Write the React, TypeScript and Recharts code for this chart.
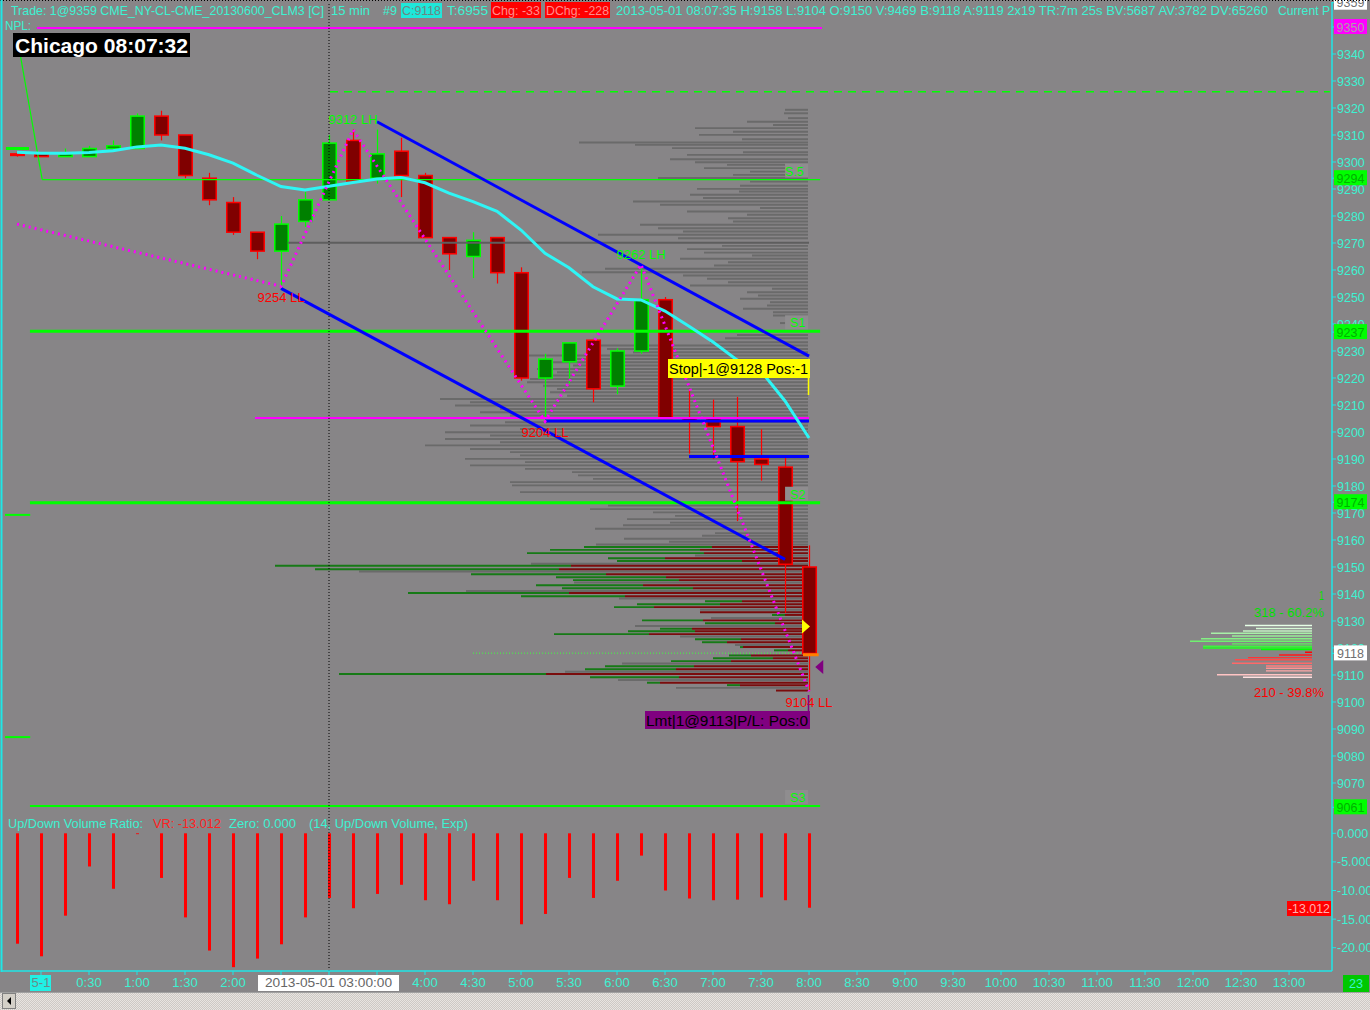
import React from 'react';
import { ComposedChart, Bar, Line, XAxis, YAxis, ReferenceLine, ReferenceDot, Cell } from 'recharts';

// ---------- data ----------
const TIMES = ['23:45','0:00','0:15','0:30','0:45','1:00','1:15','1:30','1:45','2:00','2:15','2:30','2:45','3:00','3:15','3:30','3:45','4:00','4:15','4:30','4:45','5:00','5:15','5:30','5:45','6:00','6:15','6:30','6:45','7:00','7:15','7:30','7:45','8:00'];
const OPEN = [9303,9303,9302,9302,9305,9305,9317,9310,9294,9285,9274,9267,9278,9286,9308,9294,9304,9295,9272,9265,9272,9259,9220,9226,9234,9217,9230,9249,9205,9205,9202,9190,9187,9150];
const HIGH = [9304,9303.5,9305,9306,9308,9318,9319,9310,9296,9287,9274,9280,9289,9310,9312,9312,9309,9296,9272,9274,9272,9261,9229,9233,9234,9231,9262,9250,9216,9212,9213,9201,9191,9158];
const LOW = [9302,9302,9302,9302,9305,9305,9308,9294,9284,9273,9264,9254,9276,9286,9293,9292,9287,9272,9260,9257,9255,9219,9204,9218,9211,9214,9229,9205,9192,9190,9167,9182,9133,9104];
const CLOSE = [9303,9302,9303,9305,9306,9317,9310,9295,9286,9274,9267,9277,9286,9307,9293,9303,9295,9272,9266,9271,9259,9220,9227,9233,9216,9230,9249,9205,9204,9202,9189,9188,9151,9118];
const EMA = [9303.6,9303.2,9303.2,9303.5,9304.2,9305.6,9306.3,9305.1,9302.7,9299.6,9295.1,9290.9,9289.6,9291.0,9292.4,9293.7,9294.3,9292.3,9288.5,9285.3,9281.7,9274.8,9266.2,9260.8,9253.8,9249.3,9248.9,9244.8,9239.2,9233.3,9226.7,9222.5,9211.5,9197.8];
const VOL_RATIO = [-19.3,-21.5,-14.4,-5.8,-9.7,-0.15,-7.8,-14.7,-20.5,-23.4,-21.9,-19.4,-14.7,-11.3,-13.1,-10.6,-9.0,-11.7,-12.4,-8.3,-11.7,-15.9,-14.1,-7.8,-11.3,-8.3,-3.9,-10.0,-11.4,-11.7,-11.6,-11.2,-11.7,-13.012];

const ZZ_INDEX = [0, 11, 14, 22, 26, 33];
const ZZ_PRICE = [9277, 9254, 9312, 9204, 9262, 9104];
const ZZ_TEXT = ['', '9254 LL', '9312 LH', '9204 LL', '9262 LH', '9104 LL'];
const CH_UP_INDEX = [15, 33];
const CH_UP_PRICE = [9314.9, 9228.1];
const CH_LO_INDEX = [11, 32];
const CH_LO_PRICE = [9253.2, 9152.8];

const LEVEL_NAMES = ['S.5', 'S1', 'S2', 'S3'];
const LEVEL_PRICES = [9293.5, 9237.3, 9173.8, 9061.5];
const NPL_PRICE = 9349.6;

// volume profile (gray rows = total, split rows = up/down)
const GRAY_PRICE = [9319.3,9318.0,9316.2,9314.9,9313.7,9312.5,9311.2,9310.0,9308.4,9307.2,9306.3,9305.1,9303.6,9302.6,9301.0,9299.9,9298.9,9297.7,9296.4,9295.2,9294.0,9292.7,9291.2,9290.0,9289.0,9287.8,9286.6,9285.3,9284.1,9282.9,9281.6,9280.4,9279.1,9277.9,9276.7,9275.4,9274.2,9273.0,9271.7,9268.9,9267.7,9266.4,9265.3,9264.1,9262.8,9261.6,9260.4,9259.1,9257.9,9256.7,9255.4,9254.2,9253.0,9251.7,9250.5,9249.3,9248.0,9246.8,9245.6,9244.3,9243.1,9241.9,9240.3,9239.0,9235.9,9234.7,9233.2,9232.0,9230.7,9229.5,9228.3,9227.0,9225.8,9224.6,9223.3,9222.1,9220.9,9219.6,9218.4,9217.1,9215.9,9214.7,9213.4,9212.2,9211.0,9209.8,9208.5,9207.3,9206.1,9203.6,9202.4,9201.1,9199.9,9198.7,9197.4,9196.2,9195.0,9193.7,9192.5,9191.3,9190.0,9188.8,9187.6,9186.3,9185.1,9183.9,9182.6,9181.4,9180.2,9177.7,9173.9,9172.7,9171.4,9170.2,9168.9,9167.7,9166.4,9165.4,9164.1,9162.5,9161.5,9160.4,9159.3,9158.3,9154.2,9151.2,9148.3,9144.2,9141.1,9138.3,9134.1,9131.1,9128.1,9124.2,9121.1,9114.2,9111.2,9108.1,9105.2];
const GRAY_VOL = [23,24,20,61,35,113,75,109,66,229,173,136,65,121,138,113,81,104,58,75,150,58,68,111,69,118,105,175,148,48,121,61,80,75,168,150,125,210,130,86,121,104,56,128,80,94,203,226,125,101,80,118,36,61,50,68,38,41,65,35,35,11,28,11,71,83,98,208,201,175,280,235,255,235,271,251,261,278,281,265,251,258,241,368,338,353,308,328,298,303,338,288,363,318,363,308,383,338,298,288,343,283,338,283,236,230,215,298,296,288,103,200,218,155,133,181,138,185,213,93,106,184,139,212,113,277,449,234,342,189,108,97,173,128,73,186,243,190,132];
const SPLIT_PRICE = [9157.4,9156.3,9155.1,9153.2,9152.2,9150.4,9149.1,9147.3,9146.2,9145.1,9143.2,9142.1,9140.3,9139.1,9137.3,9136.2,9135.1,9133.2,9132.2,9130.2,9129.1,9127.1,9126.2,9125.1,9123.2,9122.1,9120.3,9119.1,9117.2,9116.2,9115.1,9113.2,9112.1,9110.3,9109.1,9107.1,9106.2,9104.2];
const SPLIT_UP = [128,150,177,57,125,296,244,135,110,106,107,131,161,104,37,83,40,0,13,61,70,32,67,95,46,25,3,14,22,60,60,89,91,207,89,13,13,0];
const SPLIT_DOWN = [96,108,104,143,66,237,249,202,142,129,165,115,239,183,66,88,154,108,23,105,33,116,113,159,67,81,65,20,57,35,77,114,132,262,129,148,68,32];

// small right-hand profile
const MINI_PRICE = [9128.3,9127.2,9126.3,9125.4,9124.4,9123.4,9122.5,9121.5,9120.6,9120.0,9119.4,9118.4,9117.4,9116.4,9115.6,9114.3,9113.3,9112.5,9111.5,9110.1,9109.1];
const MINI_VOL = [67,56,69,101,80,111,122,80,109,109,51,7,33,64,77,80,46,46,46,95,69];

const PRICE_TICKS = [9340,9330,9320,9310,9300,9290,9280,9270,9260,9250,9240,9230,9220,9210,9200,9190,9180,9170,9160,9150,9140,9130,9120,9110,9100,9090,9080,9070,9359,9350,9294,9237,9174,9118,9061];
const VR_TICKS = [0, -5, -10, -15, -20];
const VR_TICK_LABELS = ['0.000', '-5.000', '-10.000', '-15.000', '-20.000'];
const X_TICK_LABELS = ['5-1','0:30','1:00','1:30','2:00','2:30','3:00','3:30','4:00','4:30','5:00','5:30','6:00','6:30','7:00','7:30','8:00','8:30','9:00','9:30','10:00','10:30','11:00','11:30','12:00','12:30','13:00'];
const CURSOR_INDEX = 13;
const CURSOR_LABEL = '2013-05-01  03:00:00';

// ---------- styles ----------
const FONT = '"Liberation Sans", Arial, sans-serif';
const BG = '#878587';
const TXT = '#3cf2d2';
const AXIS = '#1fe6e6';
const PRICE_DOMAIN: [number, number] = [9058.15, 9359.26];
const X_DOMAIN: [number, number] = [-0.625, 54.79];
const VR_DOMAIN: [number, number] = [-24.07, 3.2];
const LEVEL_END = 33.46;
const PRICE_BOXES: Record<number, { bg: string; fg: string }> = {
  9359: { bg: '#ffffff', fg: '#707070' },
  9350: { bg: '#ff00ff', fg: '#a8a0a8' },
  9294: { bg: '#00ff00', fg: '#00b000' },
  9237: { bg: '#00ff00', fg: '#00b000' },
  9174: { bg: '#00ff00', fg: '#00b000' },
  9061: { bg: '#00ff00', fg: '#00b000' },
  9118: { bg: '#ffffff', fg: '#707070' },
};
const MINI_SHADES = ['#e6ffe6','#d6f8d6','#c4f2c4','#a8f0a8','#98ee98','#84f084','#70f070','#5cf05c','#40f040','#20ff20','#00ff00','#ff0000','#ff1a1a','#ff3434','#ff4c4c','#ff6868','#ff8080','#ff9494','#ffa8a8','#ffc4c4','#ffe0e0'];

// ---------- tables ----------
const rows = TIMES.map((t, i) => {
  const z = ZZ_INDEX.indexOf(i);
  const u = CH_UP_INDEX.indexOf(i);
  const lo = CH_LO_INDEX.indexOf(i);
  return {
    i, t, o: OPEN[i], h: HIGH[i], l: LOW[i], c: CLOSE[i], ema: EMA[i], vr: VOL_RATIO[i],
    zz: z >= 0 ? ZZ_PRICE[z] : null,
    cu: u >= 0 ? CH_UP_PRICE[u] : null,
    cl: lo >= 0 ? CH_LO_PRICE[lo] : null,
  };
});
const profileRows = [
  ...GRAY_PRICE.map((p, k) => ({ p, g: GRAY_VOL[k], dn: 0, up: 0 })),
  ...SPLIT_PRICE.map((p, k) => ({ p, g: 0, dn: SPLIT_DOWN[k], up: SPLIT_UP[k] })),
];
const miniRows = MINI_PRICE.map((p, k) => ({ p, v: MINI_VOL[k] }));
const X_TICKS = X_TICK_LABELS.map((_, k) => 1 + 2 * k);

// ---------- shapes ----------
const Candle = (props: any) => {
  const { x, y, width, height, payload } = props;
  if (x == null || !payload) return <g />;
  const top = Math.min(y, y + height);
  const hgt = Math.abs(height);
  const { o, h, l, c } = payload;
  const k = h > l ? hgt / (h - l) : 0;
  const py = (v: number) => top + (h - v) * k;
  const up = c > o;
  const edge = up ? '#00ff00' : '#ff0000';
  const body = up ? '#008000' : '#800000';
  const bt = py(Math.max(o, c));
  const bb = py(Math.min(o, c));
  const cx = x + width / 2;
  return (
    <g>
      <line x1={cx} x2={cx} y1={top} y2={top + hgt} stroke={edge} strokeWidth={1.2} />
      <rect x={x + 0.75} y={bt} width={width - 1.5} height={Math.max(bb - bt, 1.5)} fill={body} stroke={edge} strokeWidth={1.5} />
    </g>
  );
};

const PriceTick = (props: any) => {
  const { x, y, payload } = props;
  const v = payload.value;
  const box = PRICE_BOXES[v];
  if (box) {
    return (
      <g>
        <rect x={x - 3} y={y - 8} width={33} height={15} fill={box.bg} />
        <text x={x + 13.5} y={y + 4.5} textAnchor="middle" fill={box.fg} fontSize={12.5} fontFamily={FONT}>{v}</text>
      </g>
    );
  }
  return <text x={x} y={y + 4.5} fill={TXT} fontSize={12.5} fontFamily={FONT}>{v}</text>;
};

const VrTick = (props: any) => {
  const { x, y, payload } = props;
  const k = VR_TICKS.indexOf(payload.value);
  return <text x={x} y={y + 4.5} fill={TXT} fontSize={12.5} fontFamily={FONT}>{VR_TICK_LABELS[k]}</text>;
};

const TimeTick = (props: any) => {
  const { x, y, payload } = props;
  const i = payload.value;
  const lbl = X_TICK_LABELS[(i - 1) / 2];
  if (i === CURSOR_INDEX) {
    return (
      <g>
        <rect x={x - 71} y={y - 2} width={141} height={16} fill="#ffffff" />
        <text x={x - 64} y={y + 10} fill="#666666" fontSize={13} fontFamily={FONT} textLength={127} lengthAdjust="spacingAndGlyphs">{CURSOR_LABEL}</text>
      </g>
    );
  }
  if (Math.abs(i - CURSOR_INDEX) === 2) return <g />;
  if (i === 1) {
    return (
      <g>
        <rect x={x - 11} y={y - 2} width={21} height={16} fill="#22f0e4" />
        <text x={x} y={y + 10} textAnchor="middle" fill="#6a8a88" fontSize={13} fontFamily={FONT}>{lbl}</text>
      </g>
    );
  }
  return <text x={x} y={y + 10} textAnchor="middle" fill={TXT} fontSize={13} fontFamily={FONT}>{lbl}</text>;
};

const levelLabel = (txt: string, dx: number) => (p: any) => {
  const vb = p.viewBox || {};
  const xe = (vb.x || 0) + (vb.width || 0);
  return (
    <g>
      <rect x={xe - 35} y={vb.y - 16} width={23} height={14} fill="#8f8d8f" />
      <text x={xe - dx} y={vb.y - 4} fill="#00ff00" fontSize={12.5} fontFamily={FONT}>{txt}</text>
    </g>
  );
};

const pivotLabel = (txt: string, up: boolean) => (p: any) => {
  const vb = p.viewBox || {};
  const cx = (vb.x || 0) + (vb.width || 0) / 2;
  const cy = (vb.y || 0) + (vb.height || 0) / 2;
  return (
    <text x={cx} y={up ? cy - 6 : cy + 16} textAnchor="middle" fill={up ? '#00ff00' : '#ff0000'} fontSize={13} fontFamily={FONT}>{txt}</text>
  );
};

const Tri = (dir: 'r' | 'l', fill: string) => (p: any) => {
  const { cx, cy } = p;
  const pts = dir === 'r'
    ? `${cx - 7},${cy - 7} ${cx + 1},${cy} ${cx - 7},${cy + 7}`
    : `${cx + 7},${cy - 7} ${cx - 1},${cy} ${cx + 7},${cy + 7}`;
  return <polygon points={pts} fill={fill} />;
};

const T = (p: { x: number; y: number; w?: number; fill?: string; size?: number; bold?: boolean; anchor?: string; children: any }) => (
  <text x={p.x} y={p.y} fill={p.fill || TXT} fontSize={p.size || 13} fontFamily={FONT} fontWeight={p.bold ? 'bold' : 'normal'}
    textAnchor={(p.anchor as any) || 'start'} textLength={p.w} lengthAdjust={p.w ? 'spacingAndGlyphs' : undefined}>{p.children}</text>
);

export default function App() {
  return (
    <div style={{ position: 'absolute', left: 0, top: 0, width: 1370, height: 1010, background: BG, overflow: 'hidden', fontFamily: FONT }}>
      {/* volume profile behind everything */}
      <div style={{ position: 'absolute', left: 0, top: 0 }}>
        <ComposedChart width={808} height={817} layout="vertical" data={profileRows} margin={{ top: 2, right: 0, bottom: 2, left: 0 }}>
          <XAxis type="number" domain={[0, 808]} reversed hide allowDataOverflow />
          <YAxis type="number" dataKey="p" domain={PRICE_DOMAIN} reversed hide allowDataOverflow />
          <Bar dataKey="g" stackId="s" fill="#6a6a6a" barSize={2.4} isAnimationActive={false} />
          <Bar dataKey="dn" stackId="s" fill="#7a0c0c" barSize={2.4} isAnimationActive={false} />
          <Bar dataKey="up" stackId="s" fill="#167a16" barSize={2.4} isAnimationActive={false} />
        </ComposedChart>
      </div>

      {/* small right profile */}
      <div style={{ position: 'absolute', left: 1150, top: 0 }}>
        <ComposedChart width={162} height={817} layout="vertical" data={miniRows} margin={{ top: 2, right: 0, bottom: 2, left: 0 }}>
          <XAxis type="number" domain={[0, 162]} reversed hide allowDataOverflow />
          <YAxis type="number" dataKey="p" domain={PRICE_DOMAIN} reversed hide allowDataOverflow />
          <Bar dataKey="v" barSize={2} isAnimationActive={false}>
            {miniRows.map((r, k) => <Cell key={k} fill={MINI_SHADES[k]} />)}
          </Bar>
        </ComposedChart>
      </div>

      {/* price pane */}
      <div style={{ position: 'absolute', left: 0, top: 0 }}>
        <ComposedChart width={1370} height={817} data={rows} margin={{ top: 2, right: 0, bottom: 2, left: 2 }}>
          <XAxis type="number" dataKey="i" domain={X_DOMAIN} hide allowDataOverflow />
          <YAxis orientation="right" type="number" domain={PRICE_DOMAIN} allowDataOverflow width={38}
            ticks={PRICE_TICKS} interval={0} tickSize={4} tickMargin={1} tick={<PriceTick />}
            axisLine={{ stroke: AXIS, strokeWidth: 1.5 }} tickLine={{ stroke: AXIS }} />

          <ReferenceLine segment={[{ x: 0.83, y: NPL_PRICE }, { x: 33.54, y: NPL_PRICE }]} stroke="#ff00ff" strokeWidth={2} />
          <ReferenceLine segment={[{ x: 13.04, y: 9326 }, { x: 54.7, y: 9326 }]} stroke="#00ff00" strokeWidth={1.5} strokeDasharray="8 6" />
          <ReferenceLine segment={[{ x: 0.13, y: 9340 }, { x: 1.05, y: LEVEL_PRICES[0] }]} stroke="#00ff00" strokeWidth={1.2} />
          <ReferenceLine segment={[{ x: 1.05, y: LEVEL_PRICES[0] }, { x: LEVEL_END, y: LEVEL_PRICES[0] }]} stroke="#00ff00" strokeWidth={1.3} label={levelLabel(LEVEL_NAMES[0], 35)} />
          <ReferenceLine segment={[{ x: 0.54, y: LEVEL_PRICES[1] }, { x: LEVEL_END, y: LEVEL_PRICES[1] }]} stroke="#00ff00" strokeWidth={3} label={levelLabel(LEVEL_NAMES[1], 30)} />
          <ReferenceLine segment={[{ x: 0.54, y: LEVEL_PRICES[2] }, { x: LEVEL_END, y: LEVEL_PRICES[2] }]} stroke="#00ff00" strokeWidth={3} label={levelLabel(LEVEL_NAMES[2], 30)} />
          <ReferenceLine segment={[{ x: 0.54, y: LEVEL_PRICES[3] }, { x: LEVEL_END, y: LEVEL_PRICES[3] }]} stroke="#00ff00" strokeWidth={2} label={levelLabel(LEVEL_NAMES[3], 30)} />
          <ReferenceLine segment={[{ x: -0.46, y: 9305 }, { x: 0.5, y: 9305 }]} stroke="#00ff00" strokeWidth={3} />
          <ReferenceLine segment={[{ x: -0.5, y: 9169.3 }, { x: 0.55, y: 9169.3 }]} stroke="#00ff00" strokeWidth={2} />
          <ReferenceLine segment={[{ x: -0.5, y: 9087 }, { x: 0.55, y: 9087 }]} stroke="#00ff00" strokeWidth={2} />
          <ReferenceLine segment={[{ x: 11.3, y: 9270.1 }, { x: 33, y: 9270.1 }]} stroke="#5e5e5e" strokeWidth={2} />
          <ReferenceLine segment={[{ x: 9.92, y: 9205.2 }, { x: 33, y: 9205.2 }]} stroke="#ff00ff" strokeWidth={2} />
          <ReferenceLine segment={[{ x: 19, y: 9118.1 }, { x: 32.7, y: 9118.1 }]} stroke="#40ff40" strokeWidth={1} strokeDasharray="1 2" />
          <ReferenceLine x={CURSOR_INDEX} stroke="#000000" strokeWidth={1} strokeDasharray="1 2" />

          <Bar dataKey={(d: any) => [d.l, d.h]} barSize={15} shape={<Candle />} isAnimationActive={false} />

          <ReferenceLine segment={[{ x: 22, y: 9204.1 }, { x: 33, y: 9204.1 }]} stroke="#0000ff" strokeWidth={3} />
          <ReferenceLine segment={[{ x: 28, y: 9190.9 }, { x: 33, y: 9190.9 }]} stroke="#0000ff" strokeWidth={3} />
          <Line dataKey="ema" stroke="#2ef5f5" strokeWidth={3} dot={false} isAnimationActive={false} />
          <Line dataKey="cu" stroke="#0000ff" strokeWidth={3} dot={false} connectNulls isAnimationActive={false} />
          <Line dataKey="cl" stroke="#0000ff" strokeWidth={3} dot={false} connectNulls isAnimationActive={false} />
          <Line dataKey="zz" stroke="#ff00ff" strokeWidth={3} strokeDasharray="2 4" dot={false} connectNulls isAnimationActive={false} />

          {ZZ_INDEX.map((ix, k) => ZZ_TEXT[k] ? (
            <ReferenceDot key={'zz' + k} x={ix} y={ZZ_PRICE[k]} r={1} fill="none" stroke="none"
              label={pivotLabel(ZZ_TEXT[k], ZZ_TEXT[k].endsWith('LH'))} />
          ) : null)}
          <ReferenceDot x={33} y={9128} r={6} shape={Tri('r', '#ffff00')} />
          <ReferenceDot x={33.3} y={9113} r={6} shape={Tri('l', '#800080')} />
          <ReferenceLine segment={[{ x: 32.75, y: 9117.5 }, { x: 33.4, y: 9117.5 }]} stroke="#ff8000" strokeWidth={3} />
        </ComposedChart>
      </div>

      {/* up/down volume ratio pane */}
      <div style={{ position: 'absolute', left: 0, top: 815 }}>
        <ComposedChart width={1370} height={180} data={rows} margin={{ top: 0, right: 0, bottom: 0, left: 2 }}>
          <XAxis type="number" dataKey="i" domain={X_DOMAIN} allowDataOverflow ticks={X_TICKS} interval={0} height={24}
            tickSize={4} tickMargin={2} tick={<TimeTick />} axisLine={{ stroke: AXIS, strokeWidth: 1.5 }} tickLine={{ stroke: AXIS }} />
          <YAxis orientation="right" type="number" domain={VR_DOMAIN} allowDataOverflow width={38} ticks={VR_TICKS} interval={0}
            tickSize={4} tickMargin={1} tick={<VrTick />} axisLine={{ stroke: AXIS, strokeWidth: 1.5 }} tickLine={{ stroke: AXIS }} />
          <ReferenceLine x={CURSOR_INDEX} stroke="#000000" strokeWidth={1} strokeDasharray="1 2" />
          <Bar dataKey="vr" fill="#ff0000" barSize={3} isAnimationActive={false} />
        </ComposedChart>
      </div>

      {/* text overlays */}
      <svg width={1370} height={1010} style={{ position: 'absolute', left: 0, top: 0, pointerEvents: 'none' }}>
        <line x1={0} x2={1370} y1={0.5} y2={0.5} stroke="#000" strokeDasharray="1 2" />
        <line x1={1.5} x2={1.5} y1={0} y2={972} stroke={AXIS} strokeWidth={2} />

        <T x={11} y={15} w={313}>Trade: 1@9359 CME_NY-CL-CME_20130600_CLM3 [C]</T>
        <T x={331} y={15} w={39}>15 min</T>
        <T x={383} y={15} w={14}>#9</T>
        <rect x={401} y={3} width={41} height={15} fill="#1ee8da" />
        <T x={402} y={15} w={39} fill="#6c8684">C:9118</T>
        <T x={447} y={15} w={41}>T:6955</T>
        <rect x={491} y={2} width={50} height={16} fill="#ff0000" />
        <T x={492} y={15} w={48} fill="#ff8c8c">Chg: -33</T>
        <rect x={545} y={2} width={65} height={16} fill="#ff0000" />
        <T x={546} y={15} w={63} fill="#ff8c8c">DChg: -228</T>
        <T x={616} y={15} w={652}>2013-05-01 08:07:35 H:9158 L:9104 O:9150 V:9469 B:9118 A:9119 2x19 TR:7m 25s BV:5687 AV:3782 DV:65260</T>
        <T x={1278} y={15} w={52}>Current P</T>
        <T x={5} y={30} w={26}>NPL:</T>

        <rect x={13} y={33} width={177} height={24} fill="#000" />
        <T x={15} y={53} w={173} size={20} bold fill="#ffffff">Chicago 08:07:32</T>

        <rect x={668} y={359} width={142} height={19} fill="#ffff00" />
        <T x={669} y={374} w={139} size={14} fill="#000">Stop|-1@9128 Pos:-1</T>
        <line x1={808.5} x2={808.5} y1={378} y2={395} stroke="#ffff00" strokeWidth={1.5} />
        <line x1={808.5} x2={808.5} y1={695} y2={711} stroke="#800080" strokeWidth={1.5} />
        <rect x={645} y={711} width={165} height={18} fill="#800080" />
        <T x={646} y={726} w={162} size={14} fill="#000">Lmt|1@9113|P/L:  Pos:0</T>

        <T x={1319} y={600} w={5} size={12.5} fill="#00e000">1</T>
        <T x={1254} y={617} w={70} size={12.5} fill="#00e000">318 - 60.2%</T>
        <T x={1254} y={697} w={70} size={12.5} fill="#ff0000">210 - 39.8%</T>

        <T x={8} y={828} w={135} size={12.5}>Up/Down Volume Ratio:</T>
        <T x={153} y={828} w={68} size={12.5} fill="#ff2020">VR: -13.012</T>
        <T x={229} y={828} w={67} size={12.5}>Zero: 0.000</T>
        <T x={309} y={828} w={159} size={12.5}>(14, Up/Down Volume, Exp)</T>

        <rect x={1287} y={901} width={44} height={15} fill="#ff0000" />
        <T x={1288} y={913} w={42} size={12.5} fill="#ffb0b0">-13.012</T>

        <rect x={1343} y={975} width={26} height={17} fill="#00c800" />
        <T x={1349} y={988} w={14} size={13}>23</T>
      </svg>

      {/* scroll bar */}
      <div style={{ position: 'absolute', left: 0, top: 992, width: 1370, height: 18, background: 'repeating-conic-gradient(#e8e4e0 0 25%, #cdc9c5 0 50%) 0 0 / 2px 2px', borderTop: '1px solid #a0a0a0' }} />
      <div style={{ position: 'absolute', left: 2, top: 993, width: 14, height: 16, background: '#d4d0c8', border: '1px solid #808080', boxSizing: 'border-box' }}>
        <svg width={12} height={14}><polygon points="8,3 8,11 4,7" fill="#000" /></svg>
      </div>
    </div>
  );
}
